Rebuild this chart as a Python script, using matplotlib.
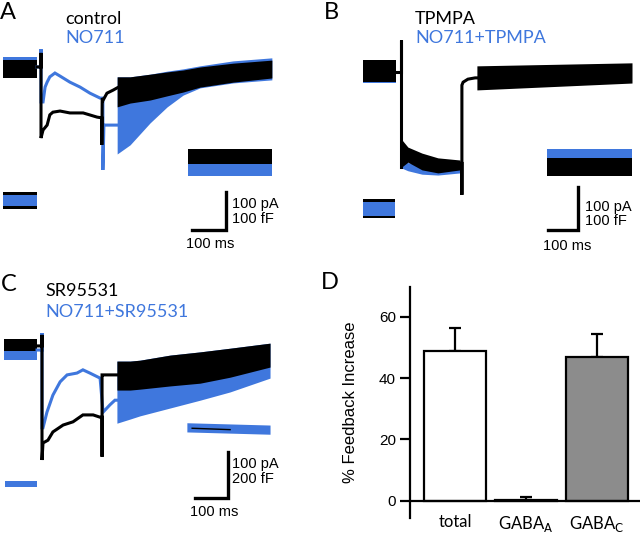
import matplotlib.pyplot as plt

plt.rcParams["font.family"] = ["Lato", "DejaVu Sans"]

W, H = 640, 536
BLUE = "#3f77dd"
GREY = "#8c8c8c"
HELV = ["Liberation Sans", "DejaVu Sans"]

# ---------------- panel A : control / NO711  (ms, pA) ----------------
a_pre_t = [-112, -12]
a_pre_black = [-21, 26]
a_pre_blue = [-13, 34]
a_black_t = [-12, 0, 0, 0, 6, 18, 26, 35, 56, 85, 124, 165, 179, 179, 180, 183, 194, 212, 224]
a_black_i = [8, 8, 45, -179, -158, -145, -118, -111, -108, -113, -113, -124, -126, -197, -74, -79, -61, -53, -47]
a_blue_t = [-12, 0, 0, 0, 6, 12, 18, 26, 41, 56, 85, 115, 144, 174, 182, 182, 185, 218, 224]
a_blue_i = [8, 8, 55, -84, -84, -45, -32, -18, -8, -16, -32, -45, -61, -74, -74, -263, -145, -145, -145]
a_band_t = [224, 262, 321, 371, 418, 468, 565, 679]
a_black_hi = [-18, -18, -11, -5, 0, 8, 18, 26]
a_black_lo = [-97, -87, -79, -68, -58, -45, -32, -21]
a_blue_hi = [-18, -18, -11, -3, 3, 11, 24, 32]
a_blue_lo = [-221, -197, -139, -97, -66, -47, -34, -26]
# capacitance segments (fF, drawn with offset)
a_capL_t = [-112, -12]
a_capL_black = [-366, -321]
a_capL_blue = [-358, -329]
a_capR_t = [432, 679]
a_capR_black = [-247, -207]
a_capR_blue = [-279, -241]

# ---------------- panel B : TPMPA / NO711+TPMPA ----------------
b_pre_t = [-127, -17]
b_pre_black = [-26, 26]
b_pre_blue = [-28, 24]
b_step_t = [-17, 0, 0, 0]
b_step_i = [-2, -2, 72, -223]
b_mid_t = [3, 23, 70, 123, 197]
b_mid_black_hi = [-160, -177, -191, -202, -207]
b_mid_black_lo = [-223, -212, -230, -237, -230]
b_mid_blue_hi = [-212, -213, -218, -219, -219]
b_mid_blue_lo = [-226, -232, -240, -242, -237]
b_off_t = [197, 203, 203, 203, 207, 223, 247, 253]
b_off_i = [-215, -215, -288, -33, -26, -19, -16, -16]
b_tail_t = [253, 770]
b_tail_hi = [12, 19]
b_tail_lo = [-44, -28]
b_capL_t = [-127, -20]
b_capL_black = [-342, -298]
b_capL_blue = [-337, -305]
b_capR_t = [487, 770]
b_capR_black = [-244, -202]
b_capR_blue = [-221, -181]

# ---------------- panel C : SR95531 / NO711+SR95531 ----------------
c_pre_t = [-115, -15]
c_pre_black = [-13, 13]
c_pre_blue = [-33, -13]
c_black_t = [-15, 0, 0, 0, 3, 18, 33, 64, 94, 124, 155, 176, 182, 182, 182, 185, 221, 227]
c_black_i = [-2, -2, 22, -250, -213, -207, -189, -174, -167, -152, -152, -157, -157, -243, -65, -65, -65, -65]
c_blue_t = [-15, 0, 0, 0, 3, 15, 33, 55, 76, 106, 124, 145, 176, 185, 206, 221, 227]
c_blue_i = [-11, -11, 26, -180, -180, -146, -109, -80, -65, -61, -54, -61, -72, -146, -130, -120, -120]
c_band_t = [227, 267, 297, 388, 479, 570, 691]
c_black_hi = [-35, -35, -33, -22, -15, -7, 4]
c_black_lo = [-98, -98, -96, -89, -83, -70, -48]
c_blue_lo = [-170, -161, -154, -137, -120, -102, -72]
c_capL_t = [-112, -15]
c_capL_blue = [-309, -295]
c_capR_t = [439, 691]
c_capR_blue_lo = [-189, -194]
c_capR_blue_hi = [-169, -174]
c_capR_black_t = [455, 570]
c_capR_black_i = [-181, -184]

# ---------------- panel D : summary ----------------
groups = ["total", "GABA$_\\mathrm{A}$", "GABA$_\\mathrm{C}$"]
increase = [48.7, 0.3, 47.0]
sem = [7.5, 0.8, 7.5]
bar_colors = ["white", "white", GREY]


def trace_axes(box, x0, y0, px_ms, px_pa):
    # box in pixels (left, top, right, bottom); (x0, y0) is the pixel of t=0, I=0
    l, t, r, b = box
    ax = fig.add_axes([l / W, 1 - b / H, (r - l) / W, (b - t) / H])
    ax.set_xlim((l - x0) / px_ms, (r - x0) / px_ms)
    ax.set_ylim((y0 - b) / px_pa, (y0 - t) / px_pa)
    ax.axis("off")
    return ax


def band(ax, t, lo, hi, color):
    ax.fill_between(t, lo, hi, color=color, lw=0)


def line(ax, t, i, color, lw=2.2):
    ax.plot(t, i, color=color, lw=lw, solid_joinstyle="miter")


def scalebar(ax, x, y, ms, pa, txt):
    ax.plot([x - ms, x, x], [y, y, y + pa], color="k", lw=2.4, solid_joinstyle="miter")
    for (tx, ty, s, ha) in txt:
        ax.text(tx, ty, s, ha=ha, va="center", fontsize=10.5, family=HELV)


fig = plt.figure(figsize=(6.4, 5.36), dpi=100)

# ---- A ----
ax = trace_axes((0, 0, 320, 270), 41, 70, 0.34, 0.38)
band(ax, a_pre_t, *a_pre_blue, BLUE)
band(ax, a_pre_t, *a_pre_black, "k")
line(ax, a_blue_t, a_blue_i, BLUE)
line(ax, a_black_t, a_black_i, "k")
band(ax, a_band_t, a_blue_lo, a_blue_hi, BLUE)
band(ax, a_band_t, a_black_lo, a_black_hi, "k")
band(ax, a_capL_t, *a_capL_black, "k")
band(ax, a_capL_t, *a_capL_blue, BLUE)
band(ax, a_capR_t, *a_capR_blue, BLUE)
band(ax, a_capR_t, *a_capR_black, "k")
scalebar(ax, 544, -421, 100, 100,
         [(562, -352, "100 pA", "left"), (562, -391, "100 fF", "left"),
          (497, -458, "100 ms", "center")])

# ---- B ----
ax = trace_axes((320, 0, 640, 270), 401, 71, 0.30, 0.43)
band(ax, b_pre_t, *b_pre_blue, BLUE)
band(ax, b_pre_t, *b_pre_black, "k")
line(ax, b_step_t, b_step_i, "k")
band(ax, b_mid_t, b_mid_blue_lo, b_mid_blue_hi, BLUE)
band(ax, b_mid_t, b_mid_black_lo, b_mid_black_hi, "k")
line(ax, b_off_t, b_off_i, "k")
band(ax, b_tail_t, b_tail_lo, b_tail_hi, "k")
band(ax, b_capL_t, *b_capL_black, "k")
band(ax, b_capL_t, *b_capL_blue, BLUE)
band(ax, b_capR_t, *b_capR_blue, BLUE)
band(ax, b_capR_t, *b_capR_black, "k")
scalebar(ax, 590, -370, 100, 100,
         [(613, -316, "100 pA", "left"), (613, -349, "100 fF", "left"),
          (553, -407, "100 ms", "center")])

# ---- C ----
ax = trace_axes((0, 270, 320, 536), 42, 345, 0.33, 0.46)
band(ax, c_pre_t, *c_pre_blue, BLUE)
band(ax, c_pre_t, *c_pre_black, "k")
line(ax, c_blue_t, c_blue_i, BLUE)
line(ax, c_black_t, c_black_i, "k")
band(ax, c_band_t, c_blue_lo, c_black_hi, BLUE)
band(ax, c_band_t, c_black_lo, c_black_hi, "k")
band(ax, c_capL_t, *c_capL_blue, BLUE)
band(ax, c_capR_t, c_capR_blue_lo, c_capR_blue_hi, BLUE)
line(ax, c_capR_black_t, c_capR_black_i, "k", lw=1.0)
scalebar(ax, 564, -333, 100, 100,
         [(576, -259, "100 pA", "left"), (576, -291, "200 fF", "left"),
          (521, -363, "100 ms", "center")])

# ---- D ----
axd = fig.add_axes([410 / W, 1 - 518.3 / H, 230 / W, 231.6 / H])
x = range(len(groups))
axd.errorbar(x, increase, yerr=[[0] * 3, sem], fmt="none", ecolor="k",
             elinewidth=1.6, capsize=4.5, capthick=1.6, zorder=1)
axd.bar(x, increase, width=0.873, color=bar_colors, edgecolor="k", lw=1.6, zorder=2)
axd.axhline(0, color="k", lw=1.6, zorder=3)
axd.set_xlim(-0.634, 2.606)
axd.set_ylim(-5.7, 69.8)
for s in ["top", "right", "bottom"]:
    axd.spines[s].set_visible(False)
axd.spines["left"].set_linewidth(1.6)
axd.set_yticks([0, 20, 40, 60])
axd.tick_params(axis="y", direction="out", length=7, width=1.6, pad=3, labelsize=11,
                labelfontfamily="Liberation Sans")
axd.set_xticks(list(x))
axd.set_xticklabels(groups, fontsize=12)
axd.tick_params(axis="x", length=0, pad=-3)
axd.set_ylabel("% Feedback Increase", fontsize=12, family=HELV)
axd.yaxis.set_label_coords(-0.225, 0.5)

# ---- labels ----
big = dict(fontsize=17, va="top", ha="left")
leg = dict(fontsize=13, va="center", ha="left")
fig.text(0 / W, 1 - 2 / H, "A", **big)
fig.text(65 / W, 1 - 18.5 / H, "control", color="k", **leg)
fig.text(65 / W, 1 - 38.5 / H, "NO711", color=BLUE, **leg)
fig.text(324 / W, 1 - 2 / H, "B", **big)
fig.text(415 / W, 1 - 19 / H, "TPMPA", color="k", **leg)
fig.text(415 / W, 1 - 38 / H, "NO711+TPMPA", color=BLUE, **leg)
fig.text(1 / W, 1 - 274 / H, "C", **big)
fig.text(45 / W, 1 - 291 / H, "SR95531", color="k", **leg)
fig.text(45 / W, 1 - 312 / H, "NO711+SR95531", color=BLUE, **leg)
fig.text(321 / W, 1 - 272 / H, "D", **big)

fig.savefig("out.png", dpi=100)
